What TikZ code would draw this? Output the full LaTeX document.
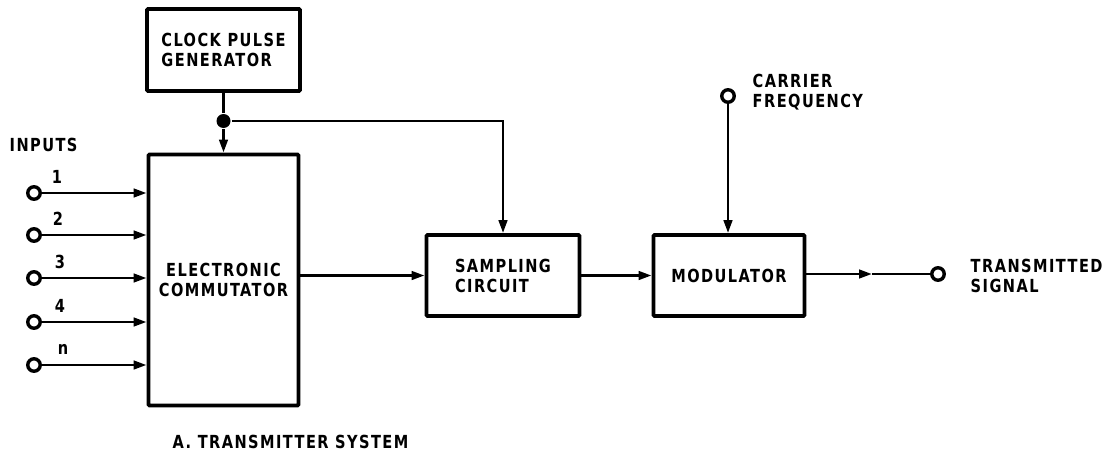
\documentclass[tikz,border=0pt]{standalone}
\usepackage{fontspec}
\setmainfont{DejaVu Sans Condensed}[LetterSpace=8, FakeStretch=0.9]
\usetikzlibrary{arrows.meta, positioning}
\newcommand\rotulo{\bfseries\fontsize{18}{20}\selectfont}

\begin{document}
\begin{tikzpicture}[x=1pt, y=-1pt, >={Triangle[length=13pt, width=8.5pt]}, line width=2.8pt,
  every node/.append style={font=\rotulo},
  bloque/.style={draw, line width=3.8pt, rounded corners=1pt, align=left},
  borne/.style={circle, draw, line width=3.4pt, inner sep=0pt, minimum size=12.5pt},
  punto/.style={circle, fill, inner sep=0pt, minimum size=14pt}]
  \useasboundingbox (0,0) rectangle (1102,460);
  % bloques
  \node[bloque, minimum width=153pt, minimum height=82pt] (reloj) at (223.5,50) {CLOCK PULSE\\GENERATOR};
  \node[bloque, minimum width=150pt, minimum height=251pt, align=center] (conm) at (223.5,280) {ELECTRONIC\\COMMUTATOR};
  \node[bloque, minimum width=153pt, minimum height=81pt] (muestreo) at (503,275.5) {SAMPLING\\CIRCUIT};
  \node[bloque, minimum width=151pt, minimum height=81pt] (modul) at (729,275.5) {MODULATOR};
  % entradas
  \node[anchor=west] (txtin) at (5,145) {INPUTS};
  \foreach \i/\y/\l/\dx in {1/193/1/57,2/235/2/58,3/278/3/60,4/322/4/60,5/365/n/63}{
    \node[borne] (in\i) at (34,\y) {};
    \node (num\i) at ({\dx},{\y-16}) {\l};
    \draw[->] (in\i) -- (in\i -| conm.west);}
  % reloj al conmutador y al muestreo
  \node[punto] (nudo) at (223.5,121) {};
  \draw (reloj) -- (nudo);
  \draw[->] (nudo) -- (conm.north);
  \draw[->] (nudo) -| (muestreo.north);
  % cadena de senal
  \draw[->] (conm.east |- muestreo.west) -- (muestreo.west);
  \draw[->] (muestreo.east) -- (modul.west);
  \node[borne] (port) at (728,96) {};
  \node[anchor=west, align=left] (txtport) at (748,92) {CARRIER\\FREQUENCY};
  \draw[->] (port) -- (port |- modul.north);
  \node[borne] (sal) at (938,274) {};
  \node[anchor=west, align=left] (txtsal) at (966,276) {TRANSMITTED\\SIGNAL};
  \coordinate (medio) at (872,274);
  \draw[->] (modul.east |- sal) -- (medio);
  \draw (medio) -- (sal);
  % pie
  \node[anchor=west] (pie) at (168,442) {A. TRANSMITTER SYSTEM};
\end{tikzpicture}
\end{document}
